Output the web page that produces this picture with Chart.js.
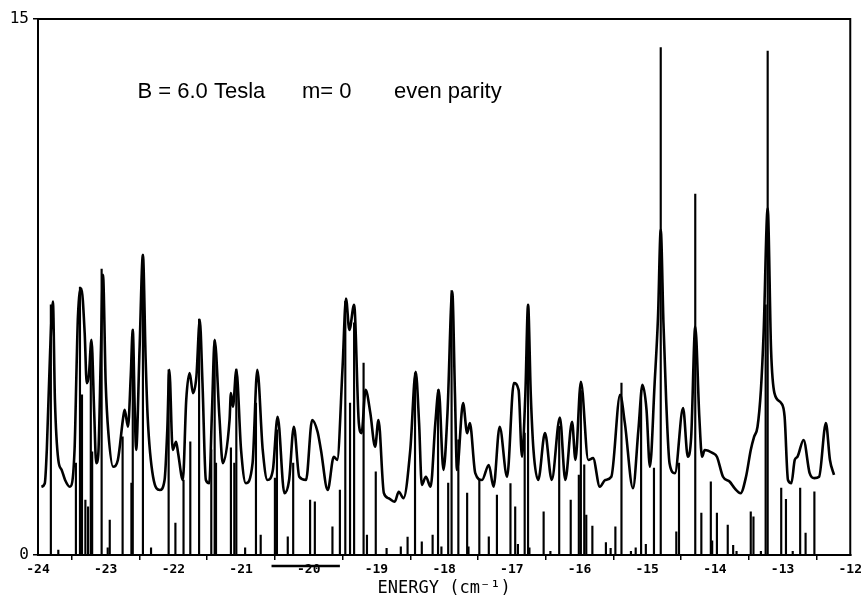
<!DOCTYPE html>
<html>
<head>
<meta charset="utf-8">
<script src="https://cdn.jsdelivr.net/npm/chart.js@4.4.1/dist/chart.umd.min.js"></script>
<style>
  html, body { margin: 0; padding: 0; background: #fff; }
  #wrap { width: 864px; height: 605px; }
</style>
</head>
<body>
<div id="wrap"><canvas id="spectrumChart"></canvas></div>
<script>
// smoothed spectrum
const curveEnergy = [
  -23.95, -23.90, -23.87, -23.82, -23.78, -23.75, -23.70, -23.65, -23.60, -23.53,
  -23.46, -23.43, -23.41, -23.36, -23.31, -23.28, -23.25, -23.21, -23.17, -23.14,
  -23.11, -23.07, -23.04, -23.00, -22.96, -22.89, -22.82, -22.74, -22.72, -22.67,
  -22.63, -22.60, -22.57, -22.55, -22.50, -22.45, -22.41, -22.38, -22.30, -22.20,
  -22.13, -22.09, -22.06, -22.01, -21.96, -21.93, -21.86, -21.81, -21.76, -21.71,
  -21.66, -21.61, -21.57, -21.52, -21.47, -21.43, -21.39, -21.32, -21.27, -21.17,
  -21.15, -21.12, -21.07, -21.00, -20.93, -20.83, -20.76, -20.68, -20.61, -20.53,
  -20.46, -20.36, -20.29, -20.22, -20.14, -20.04, -19.95, -19.87, -19.82, -19.72,
  -19.63, -19.58, -19.50, -19.45, -19.40, -19.33, -19.26, -19.22, -19.16, -19.09,
  -19.02, -18.97, -18.89, -18.82, -18.73, -18.67, -18.60, -18.50, -18.42, -18.37,
  -18.33, -18.27, -18.20, -18.13, -18.08, -18.01, -17.95, -17.88, -17.84, -17.81,
  -17.72, -17.66, -17.62, -17.54, -17.44, -17.34, -17.27, -17.18, -17.07, -16.97,
  -16.90, -16.85, -16.80, -16.76, -16.72, -16.68, -16.61, -16.51, -16.41, -16.29,
  -16.21, -16.11, -16.06, -15.98, -15.87, -15.80, -15.70, -15.62, -15.53, -15.40,
  -15.33, -15.21, -15.13, -15.07, -15.01, -14.96, -14.89, -14.84, -14.80, -14.76,
  -14.72, -14.67, -14.59, -14.47, -14.40, -14.35, -14.29, -14.23, -14.19, -14.15,
  -14.03, -13.97, -13.88, -13.78, -13.71, -13.62, -13.54, -13.47, -13.42, -13.37,
  -13.32, -13.28, -13.22, -13.17, -13.12, -13.02, -12.97, -12.92, -12.87, -12.82,
  -12.78, -12.69, -12.60, -12.53, -12.46, -12.36, -12.30, -12.24
];
const curveIntensity = [
  1.91, 2.00, 2.94, 5.74, 7.09, 4.34, 2.66, 2.38, 2.10, 1.91,
  2.94, 5.27, 6.67, 7.46, 6.20, 4.81, 5.00, 6.02, 4.00, 2.57,
  2.80, 5.74, 7.84, 4.81, 3.41, 2.47, 2.66, 3.87, 4.06, 3.59,
  5.00, 6.30, 4.00, 2.94, 5.74, 8.40, 5.50, 3.87, 2.19, 1.82,
  2.10, 3.50, 5.18, 2.94, 3.17, 2.85, 2.10, 4.34, 5.09, 4.53,
  4.99, 6.58, 4.81, 2.10, 2.01, 4.00, 6.02, 3.87, 2.57, 3.78,
  4.53, 4.15, 5.18, 2.94, 2.01, 2.57, 5.18, 2.94, 2.10, 2.38,
  3.87, 1.73, 2.10, 3.59, 2.19, 2.10, 3.78, 3.45, 2.94, 1.82,
  2.75, 2.66, 5.27, 7.18, 6.30, 7.00, 3.69, 3.41, 4.62, 3.97,
  3.03, 3.78, 1.73, 1.59, 1.49, 1.77, 1.59, 2.94, 5.13, 3.69,
  1.96, 2.19, 1.91, 3.69, 4.62, 2.38, 4.00, 7.37, 4.50, 2.38,
  4.25, 3.41, 3.69, 2.29, 2.10, 2.52, 1.91, 3.59, 2.19, 4.81,
  4.62, 2.75, 4.50, 7.00, 4.50, 2.94, 2.10, 3.41, 2.10, 3.85,
  2.10, 3.73, 2.66, 4.85, 2.66, 2.71, 1.91, 2.10, 2.19, 4.48,
  3.69, 1.87, 3.50, 4.76, 4.06, 2.47, 4.81, 6.67, 9.10, 6.50,
  4.34, 2.57, 2.29, 4.11, 2.75, 3.31, 6.39, 3.87, 2.75, 2.94,
  2.85, 2.75, 2.19, 2.05, 1.87, 1.73, 2.19, 2.94, 3.31, 3.59,
  4.62, 6.21, 9.70, 5.74, 4.53, 4.25, 3.87, 2.10, 2.01, 2.66,
  2.75, 3.22, 2.29, 2.15, 2.19, 3.69, 2.66, 2.24
];

// individual line positions and strengths
const lineEnergy = [
  -23.81, -23.70, -23.44, -23.38, -23.35, -23.30, -23.26, -23.22, -23.20, -23.06,
  -22.97, -22.94, -22.75, -22.62, -22.60, -22.45, -22.33, -22.07, -21.97, -21.85,
  -21.75, -21.62, -21.44, -21.39, -21.37, -21.15, -21.10, -21.07, -20.94, -20.78,
  -20.71, -20.50, -20.47, -20.31, -20.23, -19.98, -19.91, -19.65, -19.54, -19.46,
  -19.39, -19.33, -19.19, -19.14, -19.01, -18.85, -18.64, -18.54, -18.43, -18.33,
  -18.17, -18.09, -18.04, -17.94, -17.89, -17.79, -17.66, -17.64, -17.48, -17.34,
  -17.22, -17.02, -16.95, -16.91, -16.81, -16.76, -16.74, -16.53, -16.43, -16.30,
  -16.13, -16.01, -15.98, -15.93, -15.90, -15.81, -15.61, -15.54, -15.47, -15.38,
  -15.24, -15.17, -15.09, -15.02, -14.90, -14.80, -14.57, -14.53, -14.29, -14.20,
  -14.06, -14.04, -13.97, -13.81, -13.73, -13.68, -13.47, -13.43, -13.32, -13.25,
  -13.22, -13.02, -12.95, -12.85, -12.74, -12.66, -12.53
];
const lineIntensity = [
  7.00, 0.14, 2.57, 7.50, 4.48, 1.54, 1.35, 5.60, 2.89, 8.00,
  0.20, 0.98, 3.31, 2.01, 6.30, 8.40, 0.20, 5.18, 0.89, 2.10,
  3.17, 6.60, 2.94, 6.00, 2.57, 3.00, 2.57, 5.20, 0.20, 4.25,
  0.56, 2.15, 3.50, 0.51, 2.57, 1.54, 1.49, 0.79, 1.82, 7.10,
  4.25, 6.50, 5.37, 0.56, 2.33, 0.19, 0.23, 0.50, 5.10, 0.37,
  0.56, 4.62, 0.23, 2.01, 7.40, 3.22, 1.73, 0.23, 2.10, 0.51,
  1.68, 2.00, 1.35, 0.30, 3.41, 7.00, 0.20, 1.21, 0.10, 3.60,
  1.54, 2.24, 4.60, 2.52, 1.12, 0.81, 0.35, 0.19, 0.79, 4.81,
  0.10, 0.20, 4.60, 0.30, 2.43, 14.20, 0.65, 2.57, 10.10, 1.17,
  2.05, 0.40, 1.17, 0.84, 0.27, 0.10, 1.21, 1.07, 0.10, 7.00,
  14.10, 1.87, 1.56, 0.10, 1.87, 0.61, 1.77
];

const xTickValues = [-24, -23, -22, -21, -20, -19, -18, -17, -16, -15, -14, -13, -12];
const yTickValues = [0, 15];
const labelParts = ['B = 6.0 Tesla', 'm= 0', 'even parity'];
const axisTitle = 'ENERGY (cm\u207B\u00B9)';

// box around the plot, header text and the resolution bar under -20
const framePlugin = {
    id: 'frame',
    afterDraw(chart) {
        const { ctx, chartArea, scales } = chart;
        ctx.save();
        ctx.strokeStyle = '#000';
        ctx.lineWidth = 2;
        ctx.strokeRect(chartArea.left, chartArea.top,
            chartArea.right - chartArea.left, chartArea.bottom - chartArea.top);

        ctx.fillStyle = '#000';
        ctx.font = '22px "Liberation Sans", Arial, sans-serif';
        ctx.textBaseline = 'alphabetic';
        const anchors = [-22.53, -20.10, -18.74];
        const yText = scales.y.getPixelForValue(12.8);
        labelParts.forEach((t, i) => {
            ctx.fillText(t, scales.x.getPixelForValue(anchors[i]), yText);
        });

        ctx.lineWidth = 2.5;
        ctx.beginPath();
        const yBar = chartArea.bottom + 11;
        ctx.moveTo(scales.x.getPixelForValue(-20.55), yBar);
        ctx.lineTo(scales.x.getPixelForValue(-19.54), yBar);
        ctx.stroke();
        ctx.restore();
    }
};

function initSpectrum() {
    const ctx = document.getElementById('spectrumChart');

    const data = {
        datasets: [
            {
                type: 'line',
                data: curveEnergy.map((e, i) => ({ x: e, y: curveIntensity[i] })),
                borderColor: '#000',
                borderWidth: 2.6,
                borderJoinStyle: 'round',
                pointRadius: 0,
                cubicInterpolationMode: 'monotone',
                order: 0
            },
            {
                type: 'bar',
                data: lineEnergy.map((e, i) => ({ x: e, y: lineIntensity[i] })),
                backgroundColor: '#000',
                borderWidth: 0,
                barThickness: 1.5,
                order: 1
            }
        ]
    };

    const config = {
        type: 'bar',
        data: data,
        options: {
            responsive: true,
            maintainAspectRatio: false,
            animation: false,
            devicePixelRatio: 1,
            layout: { padding: { top: 19, right: 11, left: 0, bottom: 0 } },
            scales: {
                x: {
                    type: 'linear',
                    min: -24,
                    max: -12,
                    offset: false,
                    afterBuildTicks: (scale) => {
                        scale.ticks = xTickValues.map(v => ({ value: v }));
                    },
                    afterFit: (scale) => { scale.height = 50; },
                    grid: { drawOnChartArea: false, drawTicks: true, tickLength: 5, color: '#000', lineWidth: 1.5 },
                    border: { display: true, color: '#000', width: 2 },
                    ticks: {
                        color: '#000',
                        padding: 2,
                        maxRotation: 0,
                        autoSkip: false,
                        font: { family: '"DejaVu Sans Mono", monospace', size: 13, weight: 'bold' }
                    },
                    title: {
                        display: true,
                        text: axisTitle,
                        color: '#000',
                        padding: { top: 4, bottom: 6 },
                        font: { family: '"DejaVu Sans Mono", monospace', size: 17 }
                    }
                },
                y: {
                    min: 0,
                    max: 15,
                    afterBuildTicks: (scale) => {
                        scale.ticks = yTickValues.map(v => ({ value: v }));
                    },
                    afterFit: (scale) => { scale.width = 38; },
                    grid: { drawOnChartArea: false, drawTicks: true, tickLength: 5, color: '#000', lineWidth: 1.5 },
                    border: { display: true, color: '#000', width: 2 },
                    ticks: {
                        color: '#000',
                        padding: 4,
                        font: { family: '"DejaVu Sans Mono", monospace', size: 16 }
                    }
                }
            },
            plugins: {
                legend: { display: false },
                tooltip: { enabled: false }
            }
        },
        plugins: [framePlugin]
    };

    new Chart(ctx, config);
}

initSpectrum();
</script>
</body>
</html>
